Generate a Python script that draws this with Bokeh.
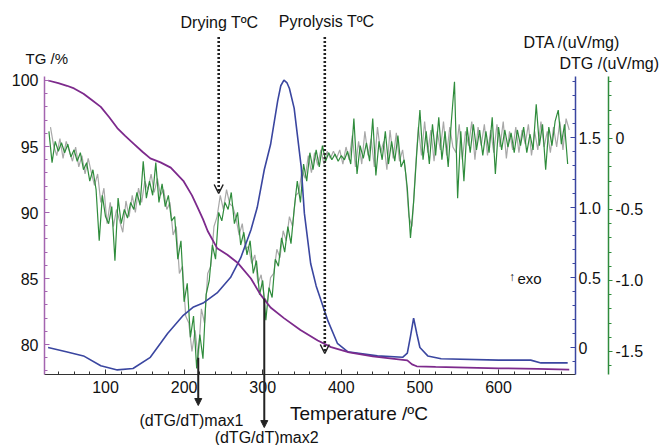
from bokeh.plotting import figure
from bokeh.models import (Range1d, LinearAxis, FixedTicker, Label, Arrow, OpenHead,
                          NormalHead, CustomJSTickFormatter)
from bokeh.embed import file_html
from bokeh.resources import INLINE

# ---------------- data ----------------
tg_T = [27, 40, 51, 60, 72, 83, 94, 105, 115, 125, 136, 147, 157, 170, 183, 199, 210, 217,
        224, 230, 242, 255, 268, 285, 297, 310, 327, 348, 370, 387, 410, 440, 470, 484, 490,
        496, 520, 560, 600, 650, 690]
tg_val = [100.0, 99.8, 99.6, 99.4, 99.0, 98.5, 98.0, 97.2, 96.4, 95.8, 95.2, 94.6, 94.1, 93.8,
          93.4, 92.4, 91.3, 90.4, 89.5, 88.6, 87.3, 86.8, 86.2, 85.0, 83.8, 82.8, 82.0, 81.1,
          80.3, 79.8, 79.4, 79.1, 78.9, 78.8, 78.5, 78.35, 78.3, 78.25, 78.2, 78.15, 78.1]

dta_T = [27, 50, 72, 94, 115, 135, 157, 170, 179, 199, 212, 225, 242, 259, 272, 285, 293, 302,
         310, 319, 323, 327, 331, 334, 340, 349, 353, 361, 368, 374, 383, 395, 408, 446, 478,
         484, 488, 492, 496, 500, 510, 527, 600, 641, 654, 688]
dta_val = [0.0, -0.03, -0.06, -0.13, -0.16, -0.15, -0.07, 0.03, 0.10, 0.23, 0.29, 0.32, 0.39,
           0.50, 0.64, 0.84, 1.00, 1.27, 1.45, 1.76, 1.87, 1.91, 1.89, 1.85, 1.71, 1.29, 0.96,
           0.60, 0.44, 0.34, 0.19, 0.03, -0.03, -0.06, -0.07, -0.04, 0.08, 0.21, 0.10, 0.0,
           -0.06, -0.08, -0.09, -0.09, -0.11, -0.11]

# DTG, green trace
dtg_T = list(range(28, 689, 4))
dtg_val = [
    0.05, -0.17, -0.02, -0.09, -0.03, -0.10, -0.04, -0.13, -0.08,
    -0.16, -0.10, -0.22, -0.17, -0.30, -0.22, -0.36, -0.72, -0.40, -0.55,
    -0.60, -0.48, -0.86, -0.42, -0.60, -0.50, -0.56, -0.45, -0.50, -0.38,
    -0.47, -0.16, -0.42, -0.30, -0.40, -0.17, -0.45, -0.32, -0.48, -0.40,
    -0.58, -0.55, -0.85, -0.72, -1.15, -1.02, -1.40, -1.25, -1.62, -1.38,
    -1.55, -1.10, -1.00, -0.75, -0.85, -0.52, -0.58, -0.45, -0.50, -0.38,
    -0.60, -0.52, -0.75, -0.66, -0.82, -0.72, -0.95, -0.86, -1.10, -1.00,
    -1.28, -1.05, -1.12, -0.85, -0.90, -0.70, -0.80, -0.62, -0.74, -0.50,
    -0.30, -0.45, -0.18, -0.30, -0.10, -0.22, -0.08, -0.20, -0.05, -0.16,
    -0.10, -0.15, -0.11, -0.16, -0.12, -0.15, -0.09, -0.18, 0.14, -0.25,
    -0.05, -0.14, -0.03, -0.16, 0.14, -0.26, -0.02, -0.15, 0.05, -0.18,
    -0.02, -0.16, 0.02, -0.20, -0.15, -0.35, -0.70, -0.45, -0.10, 0.20,
    -0.15, 0.05, -0.18, 0.10, -0.12, 0.15, -0.15, 0.05, -0.20, 0.12,
    0.40, -0.42, 0.05, -0.30, 0.08, -0.10, 0.10, -0.08, 0.06, -0.12,
    0.05, -0.10, 0.15, -0.25, 0.08, -0.08, 0.06, -0.06, 0.04, -0.10,
    0.06, -0.05, 0.08, -0.10, 0.03, -0.08, 0.24, -0.05, 0.10, -0.22,
    0.08, -0.05, 0.12, 0.20, -0.04, 0.10, -0.18,
]

# DTG, gray trace
dtg2_T = list(range(30, 691, 4))
dtg2_val = [
    0.08, -0.05, -0.12, 0.00, -0.14, -0.02, -0.09, -0.16, -0.06,
    -0.20, -0.12, -0.25, -0.14, -0.24, -0.33, -0.25, -0.45, -0.35, -0.60,
    -0.45, -0.62, -0.50, -0.58, -0.66, -0.44, -0.55, -0.40, -0.52, -0.35,
    -0.45, -0.30, -0.36, -0.25, -0.38, -0.28, -0.40, -0.36, -0.50, -0.45,
    -0.68, -0.62, -0.95, -0.90, -1.25, -1.30, -1.50, -1.35, -1.55, -1.20,
    -1.30, -0.95, -0.90, -0.62, -0.55, -0.40, -0.50, -0.36, -0.46, -0.48,
    -0.56, -0.68, -0.60, -0.78, -0.76, -0.88, -0.82, -1.02, -0.96, -1.12,
    -1.15, -0.98, -0.95, -0.78, -0.84, -0.65, -0.72, -0.55, -0.62, -0.40,
    -0.38, -0.22, -0.28, -0.12, -0.24, -0.10, -0.19, -0.08, -0.18, -0.09,
    -0.14, -0.09, -0.14, -0.08, -0.18, -0.06, -0.15, 0.02, -0.20, -0.02,
    -0.18, 0.05, -0.12, 0.00, -0.20, 0.08, -0.10, -0.02, -0.22, 0.06,
    -0.14, 0.04, -0.16, -0.08, -0.25, -0.55, -0.62, -0.25, 0.08, -0.12,
    0.12, -0.10, 0.06, -0.16, 0.05, -0.08, 0.12, -0.12, 0.08, -0.06,
    -0.10, 0.10, -0.15, 0.05, -0.05, 0.12, -0.15, 0.08, -0.05, 0.10,
    -0.12, 0.06, -0.10, 0.10, -0.06, 0.12, -0.14, 0.05, -0.08, 0.08,
    -0.10, 0.06, -0.04, 0.10, -0.12, 0.05, -0.08, 0.12, -0.06, 0.05,
    -0.10, 0.08, -0.06, 0.12, -0.08, 0.14, 0.06,
]

x_ticks = [100, 200, 300, 400, 500, 600]
tg_ticks = [80, 85, 90, 95, 100]
dta_ticks = [0, 0.5, 1.0, 1.5]
dtg_ticks = [-1.5, -1.0, -0.5, 0]

# axis extents (data units)
x_lo, x_hi = 22.3, 698.0
tg_lo, tg_hi = 77.73, 100.3
dta_lo, dta_hi = -0.193, 1.936
dtg_lo, dtg_hi = -1.662, 0.437
dtg_axis_T = 739.9

# annotation positions (temperature)
drying_T, pyro_T, max1_T, max2_T = 244, 379, 218, 302

# ---------------- figure ----------------
FONT = "Liberation Sans"
TG_C = "#7d2a8c"
DTA_C = "#3a46a0"
DTG_C = "#2f8c3c"
GRAY_C = "#a8a8a8"
TXT = "#111111"

p = figure(width=660, height=445, output_backend="svg", toolbar_location=None,
           x_range=Range1d(-33.59, 806.1), y_range=Range1d(72.35, 106.06),
           min_border=0)
p.outline_line_color = None
p.xgrid.visible = False
p.ygrid.visible = False
p.background_fill_color = "white"
p.border_fill_color = "white"

p.extra_y_ranges = {"dta": Range1d(-0.70, 2.479), "dtg": Range1d(-2.162, 0.9718)}


def style_axis(ax, color, tick_in, tick_out, standoff):
    ax.axis_line_color = color
    ax.axis_line_width = 1.5
    ax.major_tick_in = tick_in
    ax.major_tick_out = tick_out
    ax.minor_tick_in = 3 if tick_in else 0
    ax.minor_tick_out = 3 if tick_out else 0
    ax.major_tick_line_color = color
    ax.minor_tick_line_color = color
    ax.major_label_text_font = FONT
    ax.major_label_text_font_size = "16px"
    ax.major_label_text_color = TXT
    ax.major_label_standoff = standoff


xa = p.xaxis[0]
xa.ticker = FixedTicker(ticks=x_ticks, minor_ticks=list(range(40, 700, 20)))
xa.fixed_location = tg_lo
xa.bounds = (x_lo, x_hi)
style_axis(xa, "#333333", 5, 0, 7)
xa.axis_line_width = 1.2

ya = p.yaxis[0]
ya.ticker = FixedTicker(ticks=tg_ticks, minor_ticks=list(range(78, 101)))
ya.fixed_location = x_lo
ya.bounds = (tg_lo, tg_hi)
style_axis(ya, "#a465b0", 5, 0, 6)

fmt = CustomJSTickFormatter(code="return tick == 0 ? '0' : tick.toFixed(1);")

dta_axis = LinearAxis(y_range_name="dta",
                      ticker=FixedTicker(ticks=dta_ticks, minor_ticks=[i / 10 for i in range(-1, 20)]),
                      formatter=fmt, fixed_location=x_hi, bounds=(dta_lo, dta_hi))
style_axis(dta_axis, DTA_C, 5, 0, 3)
p.add_layout(dta_axis, "right")

dtg_axis = LinearAxis(y_range_name="dtg",
                      ticker=FixedTicker(ticks=dtg_ticks, minor_ticks=[i / 10 for i in range(-16, 5)]),
                      formatter=fmt, fixed_location=dtg_axis_T, bounds=(dtg_lo, dtg_hi))
style_axis(dtg_axis, DTG_C, 0, 4, 3)
p.add_layout(dtg_axis, "right")

# ---------------- curves ----------------
p.line(dtg2_T, dtg2_val, y_range_name="dtg", line_color=GRAY_C, line_width=1.2)
p.line(dtg_T, dtg_val, y_range_name="dtg", line_color=DTG_C, line_width=1.2)

p.line(dta_T, dta_val, y_range_name="dta", line_color=DTA_C, line_width=1.6)
p.line(tg_T, tg_val, line_color=TG_C, line_width=1.8)

# ---------------- annotations ----------------
def lab(x, y, text, size="16px", align="left"):
    p.add_layout(Label(x=x, y=y, text=text, text_font=FONT, text_font_size=size,
                       text_color=TXT, text_align=align, text_baseline="middle"))


lab(-1.8, 101.67, "TG /%", "15px")
lab(631.8, 102.9, "DTA /(uV/mg)")
lab(677.6, 101.3, "DTG /(uV/mg)")
lab(334.8, 74.77, "Temperature /ºC", "19px")
lab(245, 104.4, "Drying TºC", align="center")
lab(381.3, 104.5, "Pyrolysis TºC", align="center")
lab(209.4, 74.24, "(dTG/dT)max1", align="center")
lab(305, 72.95, "(dTG/dT)max2", align="center")
lab(613.5, 85.15, "↑", "12px")
lab(624.2, 85.0, "exo", "15px")

p.add_layout(Arrow(end=OpenHead(size=9, line_width=1.5, line_color="#222222"),
                   x_start=drying_T, y_start=103.3, x_end=drying_T, y_end=91.44,
                   line_dash="2 2", line_width=2.6, line_color="#222222"))
p.add_layout(Arrow(end=OpenHead(size=9, line_width=1.5, line_color="#222222"),
                   x_start=pyro_T, y_start=103.3, x_end=pyro_T, y_end=79.32,
                   line_dash="2 2", line_width=2.6, line_color="#222222"))
p.add_layout(Arrow(end=NormalHead(size=7, fill_color="#222222", line_color="#222222"),
                   x_start=max1_T, y_start=79.0, x_end=max1_T, y_end=75.38,
                   line_width=2, line_color="#222222"))
p.add_layout(Arrow(end=NormalHead(size=7, fill_color="#222222", line_color="#222222"),
                   x_start=max2_T, y_start=83.48, x_end=max2_T, y_end=73.71,
                   line_width=2, line_color="#222222"))

open("out.html", "w").write(file_html(p, INLINE))
